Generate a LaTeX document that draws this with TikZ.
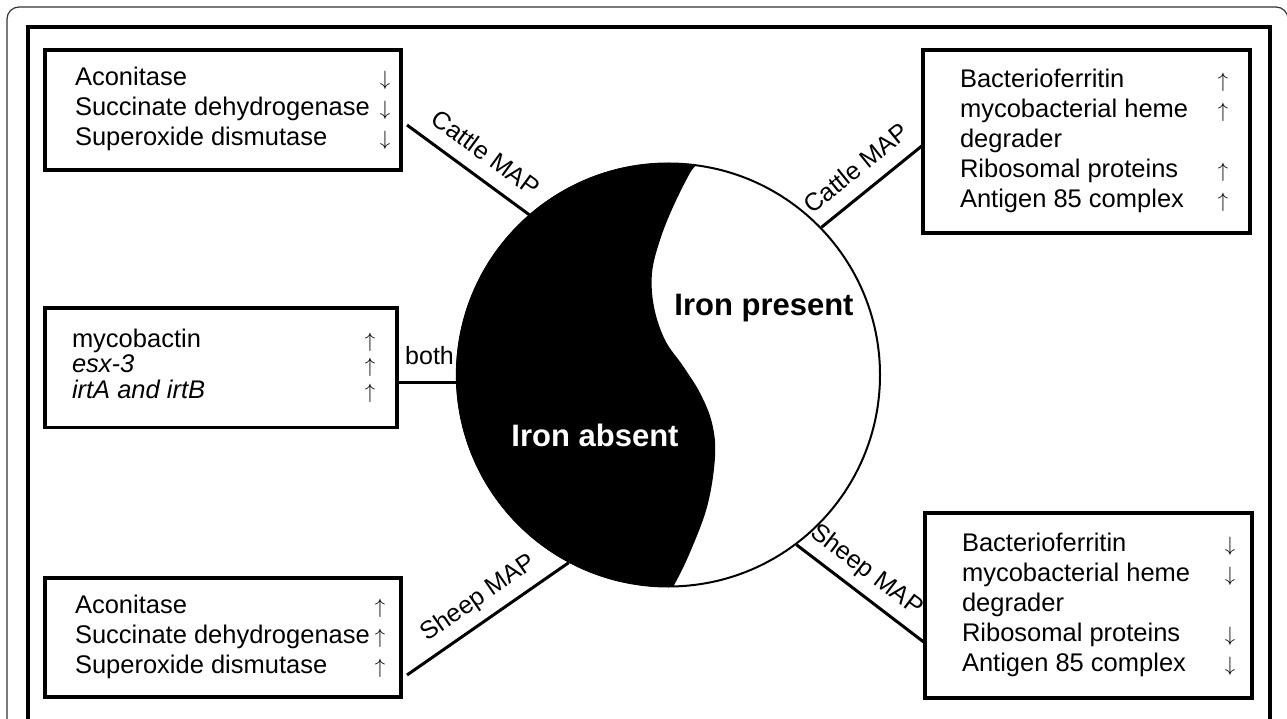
\documentclass[tikz,border=0pt]{standalone}
\usepackage{fontspec}
\setmainfont{Liberation Sans}
\usepackage{array}
\newcommand\arup{\makebox[12pt]{\fontsize{21}{30}\selectfont$\uparrow$}}
\newcommand\ardn{\makebox[12pt]{\fontsize{21}{30}\selectfont$\downarrow$}}
\begin{document}
\begin{tikzpicture}[x=1pt,y=-1pt,
  frame/.style={draw, line width=3.5pt},
  listbox/.style={draw, line width=3.5pt, inner xsep=0pt, outer sep=0pt, anchor=north west, font=\fontsize{25.5}{30}\selectfont},
  conn/.style={line width=3pt},
  lab/.style={sloped, above=13pt, inner sep=1pt, text depth=0pt, font=\fontsize{25}{30}\selectfont},
  bigtxt/.style={font=\bfseries\fontsize{31}{36}\selectfont, anchor=base, inner sep=0pt}]
\useasboundingbox (0,0) rectangle (1287,719);
\clip (0,0) rectangle (1287,719);
% frames
\draw[line width=1.2pt, rounded corners=12pt, black!80] (7,7) rectangle (1288,780);
\draw[frame] (28,27) rectangle (1270,780);

% boxes
\node[listbox, inner ysep=15pt] (b1) at (45,50) {\begin{tabular}{@{\hspace{30pt}}p{304pt}@{}c@{\hspace{10pt}}}
Aconitase & \ardn\\
Succinate dehydrogenase & \ardn\\
Superoxide dismutase & \ardn
\end{tabular}};

\node[listbox, inner ysep=16.5pt] (b2) at (923,50) {\begin{tabular}{@{\hspace{37pt}}p{257pt}@{}c@{\hspace{21pt}}}
Bacterioferritin & \arup\\
mycobacterial heme & \arup\\
degrader & \\
Ribosomal proteins & \arup\\
Antigen 85 complex & \arup
\end{tabular}};

\node[listbox, inner ysep=21pt, font=\fontsize{25.5}{25}\selectfont] (b3) at (45,308) {\begin{tabular}{@{\hspace{27pt}}p{292pt}@{}c@{\hspace{21pt}}}
mycobactin & \arup\\
\itshape esx-3 & \arup\\
\itshape irtA and irtB & \arup
\end{tabular}};

\node[listbox, inner ysep=14.5pt] (b4) at (45,578) {\begin{tabular}{@{\hspace{30pt}}p{299pt}@{}c@{\hspace{15pt}}}
Aconitase & \arup\\
Succinate dehydrogenase & \arup\\
Superoxide dismutase & \arup
\end{tabular}};

\node[listbox, inner ysep=17.5pt] (b5) at (925,513) {\begin{tabular}{@{\hspace{37pt}}p{262pt}@{}c@{\hspace{16pt}}}
Bacterioferritin & \ardn\\
mycobacterial heme & \ardn\\
degrader & \\
Ribosomal proteins & \ardn\\
Antigen 85 complex & \ardn
\end{tabular}};

% circle with black region
\fill (697,165) arc[start angle=-82.1, end angle=-271.4, radius=212]
  -- plot[smooth, tension=0.6] coordinates {(673,587) (688,557) (707,507) (715,457) (712,423) (700,393) (683,366) (665,340) (654,307) (652,273) (660,240) (673,207) (690,173) (697,165)} -- cycle;
\node[draw, circle, line width=2pt, minimum size=423pt, inner sep=0pt] (c) at (668.5,375) {};
\node[bigtxt] (ip) at (764,315) {Iron present};
\node[bigtxt, text=white] (ia) at (595,446) {Iron absent};

% connectors
\draw[conn] ([shift={(6,15)}]b1.east) -- node[lab, pos=0.53] {Cattle MAP} (c.131.4);
\draw[conn] (c.44.4) -- node[lab, pos=0.49] {Cattle MAP} ([shift={(0,3.5)}]b2.west);
\draw[conn] (c.182) -- node[pos=0.45, above=15pt, inner sep=1pt, text depth=0pt, font=\fontsize{25}{30}\selectfont] {both} (c.182 -| b3.east);
\draw[conn] ([shift={(6,37.5)}]b4.east) -- node[lab, pos=0.52] {Sheep MAP} (c.242.3);
\draw[conn] (c.-53.7) -- node[lab, pos=0.44] {Sheep MAP} ([shift={(0,37.5)}]b5.west);
\end{tikzpicture}
\end{document}
